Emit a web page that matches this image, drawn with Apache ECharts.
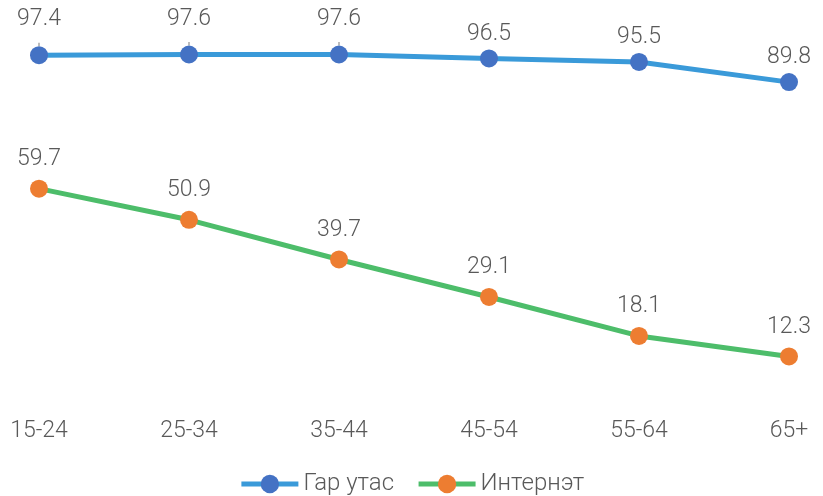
<!DOCTYPE html>
<html>
<head>
<meta charset="utf-8">
<script src="https://cdn.jsdelivr.net/npm/echarts@6/dist/echarts.min.js"></script>
<style>
html, body { margin: 0; padding: 0; background: #fff; }
#chart { width: 823px; height: 496px; }
</style>
</head>
<body>
<div id="chart"></div>
<script>
var categories = ['15-24', '25-34', '35-44', '45-54', '55-64', '65+'];
var phoneName = 'Гар утас';
var phoneValues = [97.4, 97.6, 97.6, 96.5, 95.5, 89.8];
var netName = 'Интернэт';
var netValues = [59.7, 50.9, 39.7, 29.1, 18.1, 12.3];

function drawLines(id) {
    var chart = echarts.init(document.getElementById(id));
    var font = 'Roboto';
    // first three phone labels sit a bit higher with a small leader line
    var phoneData = [];
    for (var i = 0; i < phoneValues.length; i++) {
        if (i < 3) {
            phoneData.push({
                value: phoneValues[i],
                label: { distance: 15 },
                labelLine: { show: true }
            });
        } else {
            phoneData.push(phoneValues[i]);
        }
    }
    chart.setOption({
        animation: false,
        grid: { left: 39, right: 34, top: 46, bottom: 96 },
        legend: {
            bottom: 0,
            left: 'center',
            padding: 0,
            itemWidth: 57,
            itemHeight: 23,
            itemGap: 22,
            lineStyle: { width: 5 },
            textStyle: { fontFamily: font, fontWeight: 300, fontSize: 24, color: '#595959' },
            data: [phoneName, netName]
        },
        xAxis: {
            type: 'category',
            boundaryGap: false,
            data: categories,
            axisLine: { show: false },
            axisTick: { show: false },
            axisLabel: {
                margin: 20,
                fontFamily: font,
                fontWeight: 300,
                fontSize: 23,
                color: '#595959'
            }
        },
        yAxis: {
            type: 'value',
            min: 0,
            max: 100,
            show: false,
            splitLine: { show: false }
        },
        series: [{
            name: phoneName,
            type: 'line',
            data: phoneData,
            symbol: 'circle',
            symbolSize: 18,
            lineStyle: { color: '#3A9AD9', width: 5 },
            itemStyle: { color: '#4472C4' },
            label: {
                show: true,
                position: 'top',
                distance: 4,
                fontFamily: font,
                fontWeight: 300,
                fontSize: 23,
                color: '#595959'
            },
            labelLine: { lineStyle: { color: '#A6A6A6', width: 1.5 } }
        }, {
            name: netName,
            type: 'line',
            data: netValues,
            symbol: 'circle',
            symbolSize: 18,
            lineStyle: { color: '#4DBD6A', width: 5 },
            itemStyle: { color: '#ED7D31' },
            label: {
                show: true,
                position: 'top',
                distance: 9,
                fontFamily: font,
                fontWeight: 300,
                fontSize: 23,
                color: '#595959'
            }
        }]
    });
    window.onresize = function(){
        chart.resize();
    }
}

drawLines('chart');
</script>
</body>
</html>
